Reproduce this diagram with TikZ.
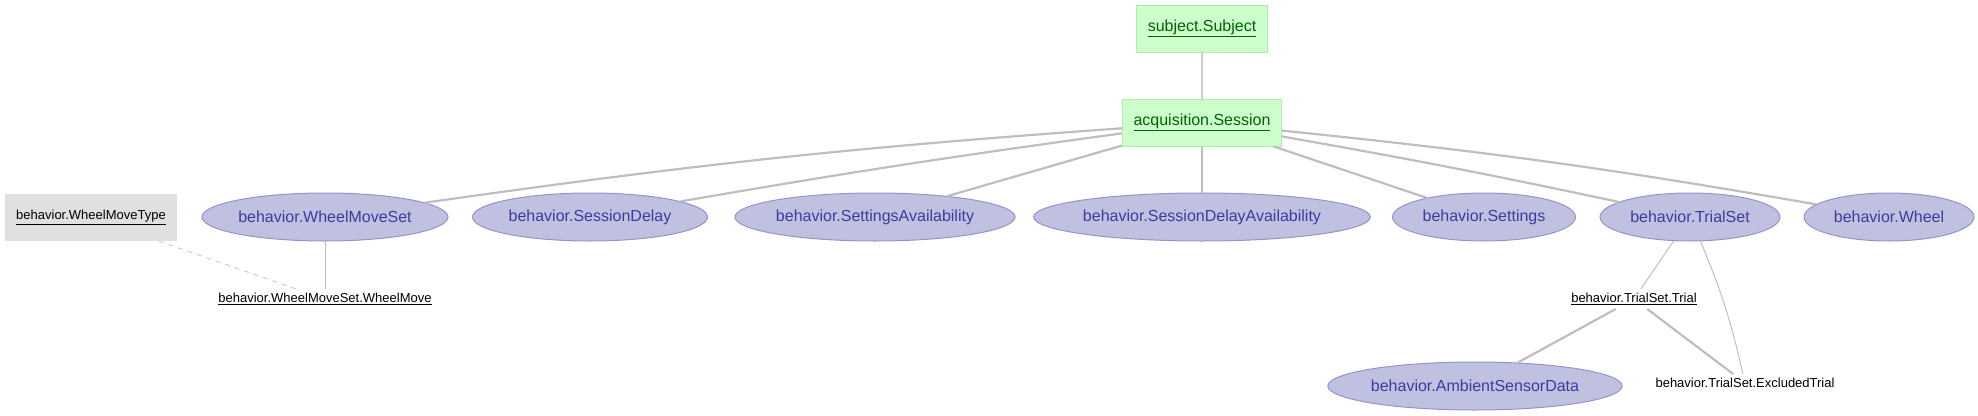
\documentclass[tikz,border=0pt]{standalone}
\usepackage{fontspec}
\setmainfont{Liberation Sans}
\usetikzlibrary{shapes.geometric}

\definecolor{manualfill}{HTML}{CCFFCC}
\definecolor{manualdraw}{HTML}{AAF0AA}
\definecolor{manualtext}{HTML}{006400}
\definecolor{lookupfill}{HTML}{E0E0E0}
\definecolor{partfill}{HTML}{C0C0E0}
\definecolor{partdraw}{HTML}{9494CC}
\definecolor{parttext}{HTML}{3C3CA0}
\definecolor{edgegray}{HTML}{BEBEBE}
\definecolor{edgelight}{HTML}{CCCCCC}

\begin{document}
\begin{tikzpicture}[x=1pt, y=-1pt,
    manual/.style={draw=manualdraw, fill=manualfill, text=manualtext, line width=1pt,
        minimum height=47pt, inner xsep=11pt, font=\fontsize{16}{19}\selectfont},
    lookup/.style={fill=lookupfill, minimum height=47pt, minimum width=172pt,
        font=\fontsize{13}{15}\selectfont},
    part/.style={ellipse, draw=partdraw, fill=partfill, text=parttext, line width=1pt,
        minimum height=48pt, inner sep=0pt, font=\fontsize{16}{19}\selectfont},
    sub/.style={inner sep=4pt, font=\fontsize{13}{15}\selectfont},
    strong/.style={draw=edgegray, line width=2.2pt},
    weak/.style={draw=edgegray, line width=1pt},
]
    \useasboundingbox (0,0) rectangle (1978,415);

    % Top: subject and session
    \node[manual] (subject) at (1202,28.5) {\underline{subject.Subject}};
    \node[manual] (session) at (1202,122.5) {\underline{acquisition.Session}};

    % Lookup table
    \node[lookup] (wmtype) at (91,217.5) {\underline{behavior.WheelMoveType}};

    % Behavior tables
    \node[part, minimum width=246pt] (wms) at (325,217) {behavior.WheelMoveSet};
    \node[part, minimum width=235pt] (sdelay) at (590,217) {behavior.SessionDelay};
    \node[part, minimum width=276pt] (savail) at (875,217) {behavior.SettingsAvailability};
    \node[part, minimum width=334pt] (sdavail) at (1202,217) {behavior.SessionDelayAvailability};
    \node[part, minimum width=183pt] (settings) at (1484,217) {behavior.Settings};
    \node[part, minimum width=180pt] (trialset) at (1690,217) {behavior.TrialSet};
    \node[part, minimum width=170pt] (wheel) at (1889,217) {behavior.Wheel};

    % Part tables
    \node[sub] (wmove) at (325,299) {\underline{behavior.WheelMoveSet.WheelMove}};
    \node[sub] (trial) at (1634,299) {\underline{behavior.TrialSet.Trial}};
    \node[part, minimum width=292pt] (ambient) at (1475,386) {behavior.AmbientSensorData};
    \node[sub] (excluded) at (1745,383) {behavior.TrialSet.ExcludedTrial};

    % Session links
    \draw[weak, draw=edgelight, line width=1.5pt] (subject) -- (session);
    \draw[strong] (session) to[bend right=2] (wms);
    \draw[strong] (session) to[bend right=1] (sdelay);
    \draw[strong] (session) -- (savail);
    \draw[strong] (session) -- (sdavail);
    \draw[strong] (session) -- (settings);
    \draw[strong] (session) to[bend left=1] (trialset);
    \draw[strong] (session) to[bend left=2] (wheel);

    % Parts
    \draw[weak] (wms) -- (wmove);
    \draw[weak, draw=edgelight, dash pattern=on 5pt off 5pt] (wmtype) -- (wmove);
    \draw[weak] (trialset) -- (trial);
    \draw[weak] (trialset) to[bend left=5] (excluded);
    \draw[strong] (trial) -- (ambient);
    \draw[strong] (trial) -- (excluded);
\end{tikzpicture}
\end{document}
